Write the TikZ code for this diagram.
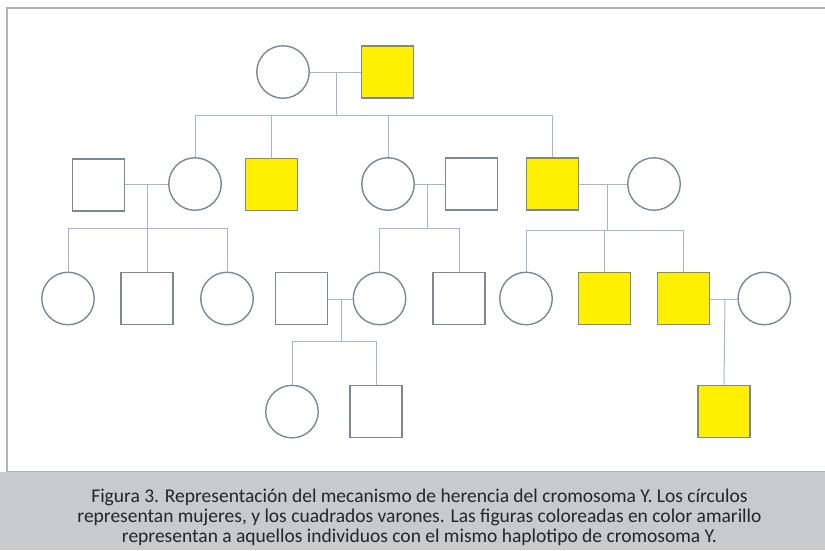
\documentclass[tikz,border=0pt]{standalone}
\usepackage{fontspec}
\setmainfont{Carlito}
\definecolor{linec}{HTML}{A9B3D8}
\definecolor{shapec}{HTML}{7D8795}
\definecolor{yel}{HTML}{FFF000}
\definecolor{capbg}{HTML}{C9CACC}
\definecolor{framec}{HTML}{B2B2B2}
\definecolor{txt}{HTML}{262626}
\begin{document}
\begin{tikzpicture}[x=1pt,y=-1pt,
  fem/.style={circle,draw=shapec,line width=1.4pt,minimum size=52.5pt,inner sep=0pt,fill=white},
  mal/.style={rectangle,draw=shapec,line width=1.4pt,minimum size=52pt,inner sep=0pt,fill=white},
  ymal/.style={mal,fill=yel},
  link/.style={draw=linec,line width=1pt},
  captxt/.style={text=txt,font=\fontsize{19.5}{20}\selectfont,inner sep=0pt,anchor=base}]
\useasboundingbox (0,0) rectangle (825,550);
% frame and caption band
\fill[capbg] (0,472) rectangle (825,550);
\draw[framec,line width=2pt] (7,472) -- (7,8) -- (826,8);
\draw[framec,line width=1pt] (7,471.5) -- (825,471.5);
% generation 1
\node[fem] (g1f) at (283,72) {};
\node[ymal] (g1m) at (387.5,72) {};
% generation 2
\node[mal] (a) at (98.7,185) {};
\node[fem] (b) at (195,184) {};
\node[ymal] (c) at (271.7,184.5) {};
\node[fem] (d) at (388,184) {};
\node[mal] (e) at (471.7,184) {};
\node[ymal] (f) at (552.5,184) {};
\node[fem] (g) at (654,184) {};
% generation 3
\node[fem] (h) at (68,298.5) {};
\node[mal] (i) at (147,298.5) {};
\node[fem] (j) at (227,298.5) {};
\node[mal] (k) at (301.7,298.5) {};
\node[fem] (l) at (379.5,298.5) {};
\node[mal] (m) at (459,298.5) {};
\node[fem] (n) at (526,298.5) {};
\node[ymal] (o) at (604.7,298.5) {};
\node[ymal] (p) at (683.7,298.5) {};
\node[fem] (q) at (764.3,298.5) {};
% generation 4
\node[fem] (s) at (292,411.6) {};
\node[mal] (t) at (376,411.6) {};
\node[ymal] (r) at (724,411.6) {};
% coordinates
\coordinate (m1) at (336,72);   \coordinate (s1) at (336,115);
\coordinate (m2) at (147,184.3); \coordinate (s2) at (147,228.3);
\coordinate (m3) at (427,184.3); \coordinate (s3) at (427,228.3);
\coordinate (m4) at (607,184.3); \coordinate (s4) at (607,230);
\coordinate (m5) at (341,299.3); \coordinate (s5) at (341,341.7);
\coordinate (m6) at (725,299);
% generation 1 family
\path[link] (g1f.east) -- (g1m.west);
\path[link] (m1) -- (s1);
\path[link] (b.north) -- (b.north |- s1) -- (f.north |- s1) -- (f.north);
\path[link] (c.north) -- (c.north |- s1);
\path[link] (d.north) -- (d.north |- s1);
% A-B family
\path[link] (a.east |- m2) -- (b.west |- m2);
\path[link] (m2) -- (s2);
\path[link] (h.north) -- (h.north |- s2) -- (j.north |- s2) -- (j.north);
\path[link] (i.north) -- (i.north |- s2);
% D-E family
\path[link] (d.east |- m3) -- (e.west |- m3);
\path[link] (m3) -- (s3);
\path[link] (l.north) -- (l.north |- s3) -- (m.north |- s3) -- (m.north);
% F-G family
\path[link] (f.east |- m4) -- (g.west |- m4);
\path[link] (m4) -- (s4);
\path[link] (n.north) -- (n.north |- s4) -- (p.north |- s4) -- (p.north);
\path[link] (o.north) -- (o.north |- s4);
% K-L family
\path[link] (k.east |- m5) -- (l.west |- m5);
\path[link] (m5) -- (s5);
\path[link] (s.north) -- (s.north |- s5) -- (t.north |- s5) -- (t.north);
% P-Q family
\path[link] (p.east |- m6) -- (q.west |- m6);
\path[link] (m6) -- (r.north);
% caption
\node[captxt] (cap1) at (419.5,502) {Figura 3. Representación del mecanismo de herencia del cromosoma Y. Los círculos};
\node[captxt] (cap2) at (419.5,522) {representan mujeres, y los cuadrados varones. Las figuras coloreadas en color amarillo};
\node[captxt] (cap3) at (419.5,542) {representan a aquellos individuos con el mismo haplotipo de cromosoma Y.};
\end{tikzpicture}
\end{document}
